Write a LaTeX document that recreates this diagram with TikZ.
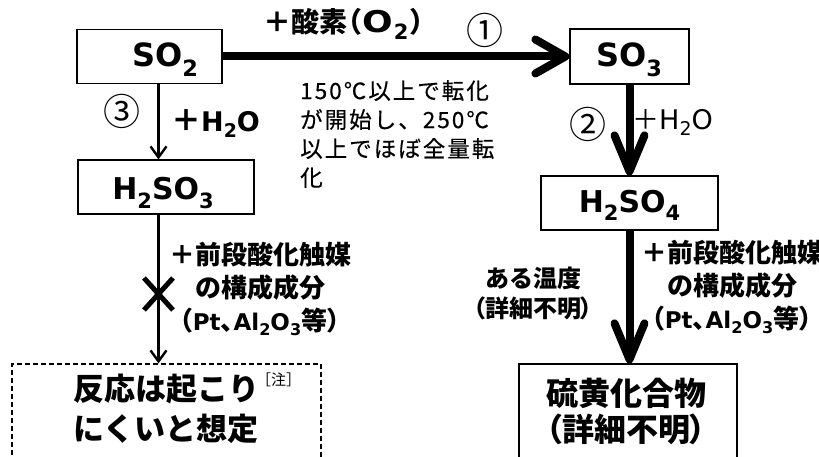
\documentclass[tikz,border=0pt]{standalone}
\usepackage{fontspec}
\setmainfont{Noto Sans CJK JP}
\newfontfamily\jpp{Noto Sans CJK JP}[RawFeature=+palt]
\newfontfamily\jps{Noto Sans CJK JP}[LetterSpace=9,FakeBold=0.4]
\newfontfamily\lat{DejaVu Sans}
\usetikzlibrary{arrows.meta}
\newcommand\chem[1]{{\lat\bfseries #1}}
\newcommand\lsub[1]{\raisebox{-0.3em}{\scalebox{0.7}{#1}}}
\newcommand\ssub[1]{\raisebox{-0.22em}{\scalebox{0.7}{#1}}}
\newcommand\chems[1]{{\lat\bfseries\fontsize{23pt}{23pt}\selectfont #1}}
\begin{document}
\begin{tikzpicture}[x=1pt,y=-1pt,
  box/.style={draw, line width=1.2pt, inner sep=0pt},
  dbox/.style={draw, line width=1.2pt, dash pattern=on 5pt off 3pt, inner sep=0pt},
  fat/.style={line width=8pt, -{Straight Barb[length=30pt,width=34pt,round]}},
  fatv/.style={line width=8pt, -{Straight Barb[length=36pt,width=30pt,round]}},
  thin/.style={line width=2.4pt, -{Straight Barb[length=11pt,width=16pt]}},
  chemlbl/.style={inner sep=0pt, font=\fontsize{32pt}{36pt}\selectfont\lat\bfseries},
  chemlbls/.style={inner sep=0pt, font=\fontsize{30pt}{36pt}\selectfont\lat\bfseries},
  circ/.style={inner sep=0pt, font=\fontsize{37pt}{37pt}\selectfont},
  bigjp/.style={inner sep=0pt, align=center, font=\fontsize{31pt}{40pt}\selectfont\bfseries},
  catjp/.style={inner sep=0pt, align=center, font=\fontsize{26pt}{33pt}\selectfont\bfseries},
  water/.style={inner sep=0pt, anchor=base west, font=\fontsize{27pt}{27pt}\selectfont\bfseries},
]
\useasboundingbox (0,0) rectangle (819,457);
\clip (0,0) rectangle (819,457);

% boxes
\node[box, minimum width=145pt, minimum height=54pt] (so2) at (149.5,56.5) {};
\node[box, minimum width=119pt, minimum height=55pt] (so3) at (629.5,56.5) {};
\node[box, minimum width=176pt, minimum height=54pt] (h2so3) at (166,187) {};
\node[box, minimum width=177pt, minimum height=54pt] (h2so4) at (629.5,203) {};
\node[dbox, minimum width=309pt, minimum height=120pt] (nr) at (166.5,424) {};
\node[box, minimum width=218pt, minimum height=120pt] (sc) at (628,424) {};

% box labels
\node[chemlbl, anchor=base] (tso2) at (165,67) {SO\lsub{2}};
\node[chemlbl, anchor=base] (tso3) at (629,67) {SO\lsub{3}};
\node[chemlbls, anchor=base] (th2so3) at (163,200) {H\lsub{2}SO\lsub{3}};
\node[chemlbls, anchor=base] (th2so4) at (629.5,212) {H\lsub{2}SO\lsub{4}};
\node[bigjp, anchor=north] (tnr) at (166,373) {反応は起こり\rlap{\hspace{-3pt}\raisebox{15pt}{\mdseries\fontsize{15pt}{15pt}\selectfont ［注］}}\\にくいと想定};
\node[bigjp, anchor=north, font=\fontsize{32pt}{36pt}\selectfont\bfseries] (tsc) at (626,378) {硫黄化合物\\{\jpp （詳細不明）}};

% connectors
\draw[fat] (so2.east) -- (so3.west);
\coordinate (c3) at (158.5,0);
\draw[thin] (so2.south -| c3) -- (h2so3.north -| c3);
\draw[thin] (h2so3.south -| c3) -- (nr.north -| c3);
\draw[fatv] (so3.south) -- (h2so4.north);
\draw[fatv] (h2so4.south) -- (h2so4.south |- sc.north);

% cross mark
\draw[line width=5pt] (144,278) -- (173,310) (173,278) -- (144,310);

% labels
\node[inner sep=0pt, anchor=base west, font=\fontsize{28pt}{28pt}\selectfont\bfseries] (lo2) at (263,33) {＋酸素{\jpp （}\hspace{1pt}{\lat\fontsize{30pt}{30pt}\selectfont\scalebox{1.2}[1]{O}\hspace{1pt}\ssub{2}}\hspace{2pt}{\jpp ）}};
\node[circ] (n1) at (485,30) {①};
\node[circ] (n3) at (122,111) {③};
\node[circ] (n2) at (588,124) {②};
\node[water] (w3) at (171,132) {{\fontsize{30pt}{30pt}\selectfont ＋}\chem{H\ssub{2}O}};
\node[water, font=\fontsize{27pt}{27pt}\selectfont] (w2) at (632,130) {＋{\lat H\ssub{2}O}};
\node[inner sep=0pt, anchor=north west, align=left, font=\fontsize{22.5pt}{29pt}\selectfont\jps] (note) at (300,80) {150℃以上で転化\\が開始し、250℃\\以上でほぼ全量転\\化};
\node[catjp, anchor=north] (catl) at (260,242) {＋前段酸化触媒\\の構成成分\\{\jpp （\chems{Pt}、\chems{Al\ssub{2}O\ssub{3}}等）}};
\node[catjp, anchor=north] (catr) at (732,240) {＋前段酸化触媒\\の構成成分\\{\jpp （\chems{Pt}、\chems{Al\ssub{2}O\ssub{3}}等）}};
\node[catjp, anchor=north, font=\fontsize{24pt}{30pt}\selectfont\bfseries] (temp) at (533,267) {ある温度\\{\jpp （詳細不明）}};
\end{tikzpicture}
\end{document}
